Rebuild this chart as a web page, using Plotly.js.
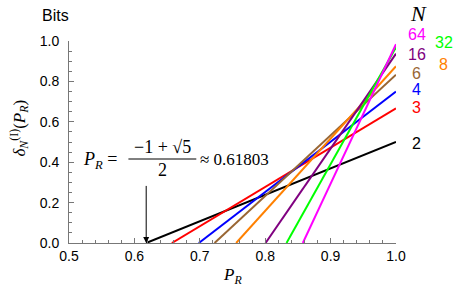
<!DOCTYPE html>
<html><head><meta charset="utf-8">
<script src="https://cdn.plot.ly/plotly-3.0.1.min.js"></script>
<style>body{margin:0;padding:0;background:#fff}#chart{width:458px;height:286px}</style>
</head><body><div id="chart"></div>
<script>
// Data
const seriesN = ['2', '3', '4', '6', '8', '16', '32', '64'];
const xIntercept = [0.61803, 0.6573, 0.6985, 0.7225, 0.7556, 0.8005, 0.8326, 0.8575];
const xEnd = [1, 1, 1, 1, 1, 1, 1, 1];
const yEnd = [0.5, 0.6667, 0.75, 0.8333, 0.875, 0.9375, 0.9688, 0.9844];
const colors = ['#000000', '#ff0000', '#0000ff', '#996633', '#ff8000', '#800080', '#00ff00', '#ff00ff'];
const xTickVals = [0.5, 0.6, 0.7, 0.8, 0.9, 1.0];
const xTickText = ['0.5', '0.6', '0.7', '0.8', '0.9', '1.0'];
const yTickVals = [0.0, 0.2, 0.4, 0.6, 0.8, 1.0];
const yTickText = ['0.0', '0.2', '0.4', '0.6', '0.8', '1.0'];
const goldenPR = 0.61803;

const W = 458, H = 286, L = 68.5, R = 62, T = 41, B = 43;
const pw = W - L - R, ph = H - T - B;
const px = v => (v - L) / pw;
const py = v => (H - B - v) / ph;

const traces = seriesN.map((n, i) => ({
  type: 'scatter', mode: 'lines',
  x: [xIntercept[i], xEnd[i]], y: [0, yEnd[i]],
  line: {color: colors[i], width: 2}, name: 'N=' + n, hoverinfo: 'skip'
}));

const sans = 'Liberation Sans, Arial, sans-serif';
const serif = 'Liberation Serif, Times New Roman, serif';

// right-side N labels: position (pixel) per series
const labelPos = {'64': [417, 35], '32': [444, 42], '16': [417, 55], '8': [444, 64],
  '6': [417, 73], '4': [417, 89], '3': [417, 108], '2': [417, 143]};

const annotations = [];
seriesN.forEach((n, i) => {
  const p = labelPos[n];
  annotations.push({xref: 'paper', yref: 'paper', x: px(p[0]), y: py(p[1]), text: n, showarrow: false,
    xanchor: 'center', yanchor: 'middle', font: {family: sans, size: 16, color: colors[i]}});
});
annotations.push({xref: 'paper', yref: 'paper', x: px(419), y: py(13), text: '<i>N</i>', showarrow: false,
  xanchor: 'center', yanchor: 'middle', font: {family: serif, size: 22, color: '#000'}});
annotations.push({xref: 'paper', yref: 'paper', x: px(55), y: py(16), text: 'Bits', showarrow: false,
  xanchor: 'center', yanchor: 'middle', font: {family: sans, size: 16, color: '#000'}});
// y title
annotations.push({xref: 'paper', yref: 'paper', x: px(18), y: py(128), textangle: -90,
  text: '<i>δ</i><sub><i>N</i></sub><sup>(I)</sup>(<i>P</i><sub><i>R</i></sub>)', showarrow: false,
  xanchor: 'center', yanchor: 'middle', font: {family: serif, size: 17, color: '#000'}});
// x title
annotations.push({xref: 'paper', yref: 'paper', x: px(232), y: py(276),
  text: '<i>P</i><sub><i>R</i></sub>', showarrow: false,
  xanchor: 'center', yanchor: 'middle', font: {family: serif, size: 17, color: '#000'}});
// formula annotation
annotations.push({xref: 'paper', yref: 'paper', x: px(81), y: py(160),
  text: '<i>P</i><sub><i>R</i></sub> =', showarrow: false,
  xanchor: 'left', yanchor: 'middle', font: {family: serif, size: 18, color: '#000'}});
annotations.push({xref: 'paper', yref: 'paper', x: px(162), y: py(147),
  text: '−1 + √5', showarrow: false,
  xanchor: 'center', yanchor: 'middle', font: {family: serif, size: 18, color: '#000'}});
annotations.push({xref: 'paper', yref: 'paper', x: px(162), y: py(170),
  text: '2', showarrow: false,
  xanchor: 'center', yanchor: 'middle', font: {family: serif, size: 18, color: '#000'}});
annotations.push({xref: 'paper', yref: 'paper', x: px(198), y: py(159),
  text: '≈ 0.61803', showarrow: false,
  xanchor: 'left', yanchor: 'middle', font: {family: serif, size: 17, color: '#000'}});
// arrow to golden ratio point
annotations.push({xref: 'x', yref: 'y', x: goldenPR, y: 0, ax: goldenPR, ay: 0.29,
  axref: 'x', ayref: 'y', text: '', showarrow: true, arrowhead: 2, arrowsize: 1.2,
  arrowwidth: 1, arrowcolor: '#000'});

const layout = {
  width: W, height: H,
  margin: {l: L, r: R, t: T, b: B, pad: 0},
  paper_bgcolor: '#fff', plot_bgcolor: '#fff',
  showlegend: false,
  xaxis: {range: [0.5, 1.0], tickvals: xTickVals, ticktext: xTickText, showgrid: false, zeroline: false,
    showline: true, linecolor: '#777', linewidth: 1, ticks: 'inside', ticklen: 5, tickcolor: '#777',
    tickfont: {family: sans, size: 14, color: '#000'},
    minor: {dtick: 0.02, tick0: 0.5, ticks: 'inside', ticklen: 3, tickcolor: '#777', showgrid: false}},
  yaxis: {range: [0, 1.0], tickvals: yTickVals, ticktext: yTickText, showgrid: false, zeroline: false,
    showline: true, linecolor: '#777', linewidth: 1, ticks: 'inside', ticklen: 5, tickcolor: '#777',
    tickfont: {family: sans, size: 14, color: '#000'}, ticklabelstandoff: 6,
    minor: {dtick: 0.05, tick0: 0, ticks: 'inside', ticklen: 3, tickcolor: '#777', showgrid: false}},
  annotations: annotations,
  shapes: [{type: 'line', xref: 'paper', yref: 'paper', x0: px(128), x1: px(196), y0: py(159), y1: py(159),
    line: {color: '#000', width: 1}}]
};

Plotly.newPlot('chart', traces, layout, {staticPlot: true, displayModeBar: false});
</script></body></html>
